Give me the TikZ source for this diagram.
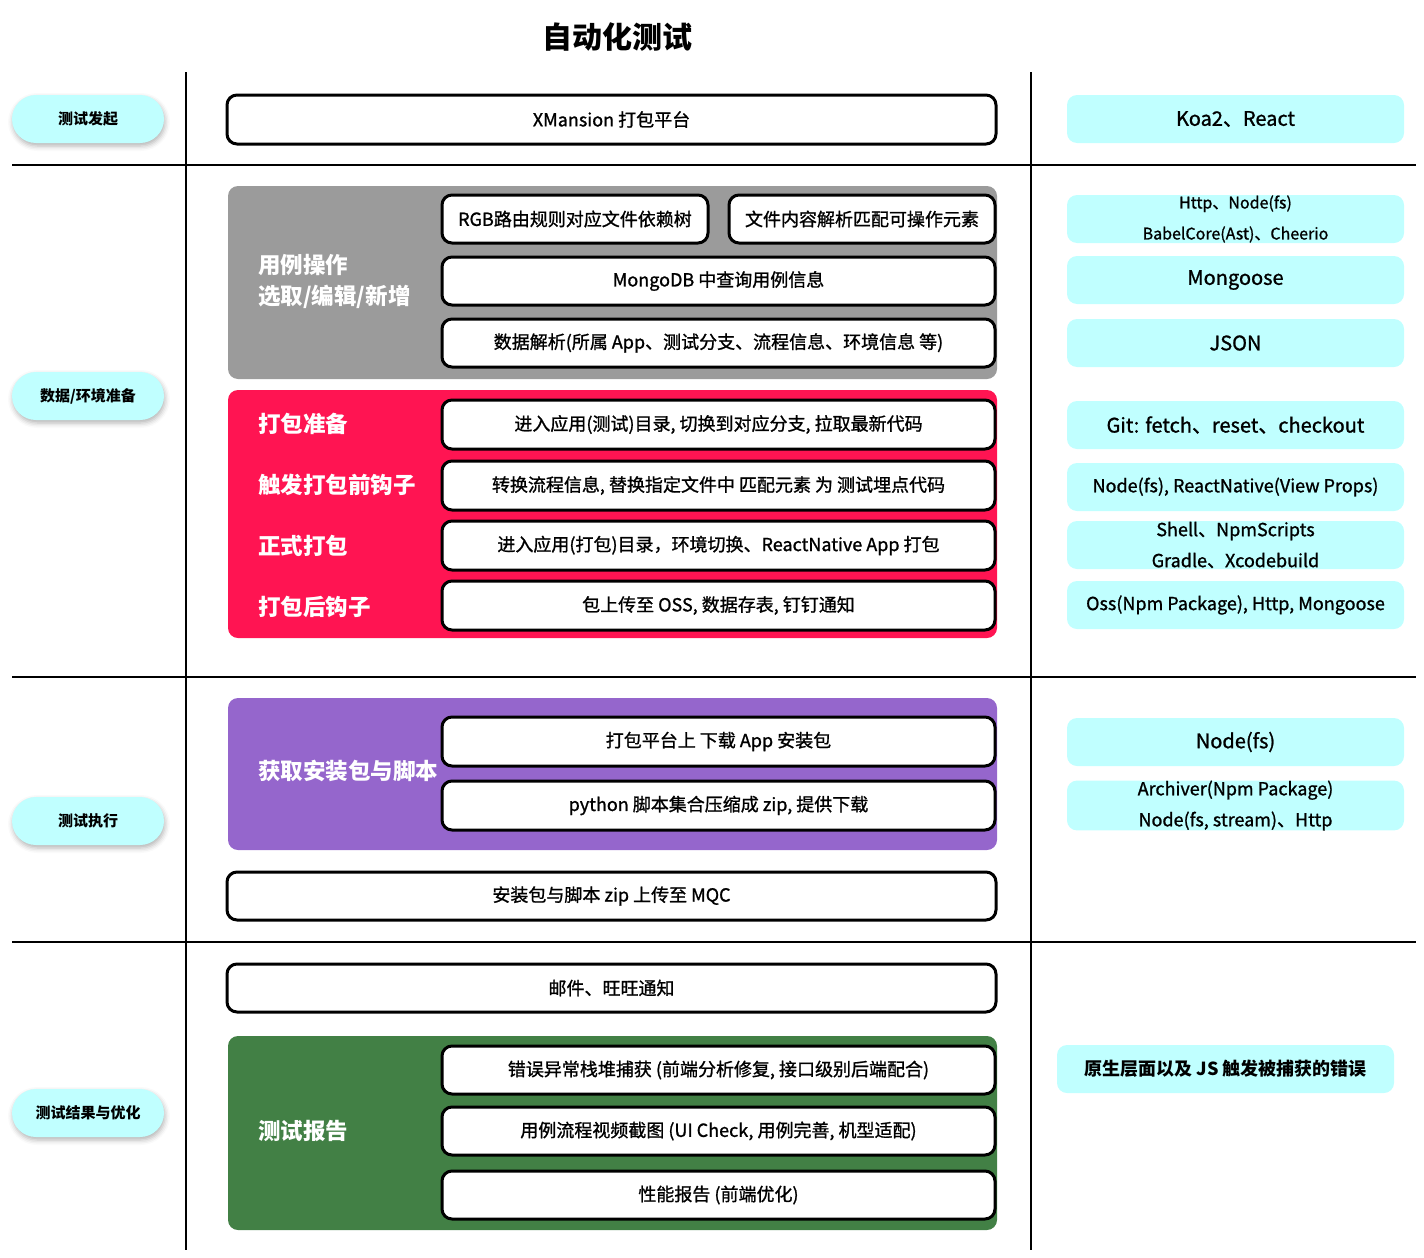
\documentclass[tikz,border=0pt]{standalone}
\usepackage{fontspec}
\setmainfont{Noto Sans CJK SC}[UprightFeatures={FakeBold=1.1}]
\usetikzlibrary{shadows.blur}
\definecolor{cyanbox}{RGB}{192,255,255}
\definecolor{grayg}{RGB}{155,155,155}
\definecolor{redg}{RGB}{255,20,82}
\definecolor{purpleg}{RGB}{149,102,204}
\definecolor{greeng}{RGB}{66,128,69}
\tikzset{
  wbox/.style={draw=black, line width=3pt, fill=white, rounded corners=10pt, minimum height=49pt, inner sep=0pt, font=\fontsize{18}{20}\selectfont, text=black},
  grp/.style={rounded corners=10pt, minimum width=769pt, inner sep=0pt},
  glabel/.style={anchor=west, text=white, font=\fontsize{22.5}{31}\selectfont\bfseries, align=left, inner sep=0pt},
  pill/.style={fill=cyanbox, rounded corners=24pt, minimum width=152pt, minimum height=48pt, inner sep=0pt, font=\fontsize{15}{17}\selectfont\bfseries, blur shadow={shadow xshift=1pt, shadow yshift=-3pt, shadow blur radius=5pt, shadow opacity=30}},
  rbox/.style={fill=cyanbox, rounded corners=10pt, minimum width=337pt, minimum height=48pt, inner sep=0pt, align=center},
  sep/.style={line width=2pt, black},
}
\begin{document}
\begin{tikzpicture}[x=1pt,y=-1pt]
\useasboundingbox (0,0) rectangle (1424,1258);
% title
\node[font=\fontsize{30}{32}\selectfont\bfseries] (title) at (617,37) {自动化测试};
% separators
\coordinate (v1t) at (186,72); \coordinate (v1b) at (186,1250);
\coordinate (v2t) at (1031,72); \coordinate (v2b) at (1031,1250);
\coordinate (h1l) at (12,165); \coordinate (h1r) at (1416,165);
\coordinate (h2l) at (12,677); \coordinate (h2r) at (1416,677);
\coordinate (h3l) at (12,942); \coordinate (h3r) at (1416,942);
\draw[sep] (v1t) -- (v1b);
\draw[sep] (v2t) -- (v2b);
\draw[sep] (h1l) -- (h1r);
\draw[sep] (h2l) -- (h2r);
\draw[sep] (h3l) -- (h3r);
% left pills
\node[pill] (p1) at (88,119) {测试发起};
\node[pill] (p2) at (88,396) {数据/环境准备};
\node[pill] (p3) at (88,821) {测试执行};
\node[pill] (p4) at (88,1113) {测试结果与优化};
% middle column
\node[wbox, minimum width=769pt] (xm) at (611.5,119.5) {XMansion 打包平台};
% gray group
\node[grp, fill=grayg, minimum height=193pt] (g1) at (612.5,282.5) {};
\node[glabel] (g1l) at (258,281) {用例操作\\选取/编辑/新增};
\node[wbox, minimum width=266pt, minimum height=48pt] (b11) at (575,219) {RGB路由规则对应文件依赖树};
\node[wbox, minimum width=266pt, minimum height=48pt] (b12) at (862,219) {文件内容解析匹配可操作元素};
\node[wbox, minimum width=553pt, minimum height=48pt] (b13) at (718.5,281) {MongoDB 中查询用例信息};
\node[wbox, minimum width=553pt, minimum height=48pt] (b14) at (718.5,343) {数据解析(所属 App、测试分支、流程信息、环境信息 等)};
% red group
\node[grp, fill=redg, minimum height=248pt] (g2) at (612.5,514) {};
\node[glabel] (g2a) at (258,424) {打包准备};
\node[glabel] (g2b) at (258,485) {触发打包前钩子};
\node[glabel] (g2c) at (258,546) {正式打包};
\node[glabel] (g2d) at (258,607) {打包后钩子};
\node[wbox, minimum width=553pt] (b21) at (718.5,424.5) {进入应用(测试)目录, 切换到对应分支, 拉取最新代码};
\node[wbox, minimum width=553pt] (b22) at (718.5,485.5) {转换流程信息, 替换指定文件中 匹配元素 为 测试埋点代码};
\node[wbox, minimum width=553pt] (b23) at (718.5,545.5) {进入应用(打包)目录，环境切换、ReactNative App 打包};
\node[wbox, minimum width=553pt] (b24) at (718.5,605.5) {包上传至 OSS, 数据存表, 钉钉通知};
% purple group
\node[grp, fill=purpleg, minimum height=152pt] (g3) at (612.5,774) {};
\node[glabel] (g3l) at (258,771) {获取安装包与脚本};
\node[wbox, minimum width=553pt] (b31) at (718.5,741.5) {打包平台上 下载 App 安装包};
\node[wbox, minimum width=553pt] (b32) at (718.5,805.5) {python 脚本集合压缩成 zip, 提供下载};
\node[wbox, minimum width=769pt, minimum height=48pt] (mqc) at (611.5,896) {安装包与脚本 zip 上传至 MQC};
\node[wbox, minimum width=769pt, minimum height=48pt] (mail) at (611.5,988) {邮件、旺旺通知};
% green group
\node[grp, fill=greeng, minimum height=194pt] (g4) at (612.5,1133) {};
\node[glabel] (g4l) at (258,1131) {测试报告};
\node[wbox, minimum width=553pt, minimum height=48pt] (b41) at (718.5,1070) {错误异常栈堆捕获 (前端分析修复, 接口级别后端配合)};
\node[wbox, minimum width=553pt, minimum height=48pt] (b42) at (718.5,1131) {用例流程视频截图 (UI Check, 用例完善, 机型适配)};
\node[wbox, minimum width=553pt, minimum height=48pt] (b43) at (718.5,1195) {性能报告 (前端优化)};
% right column
\node[rbox, font=\fontsize{20}{22}\selectfont] (r1) at (1235.5,119) {Koa2、React};
\node[rbox, font=\fontsize{16}{31}\selectfont] (r2) at (1235.5,219) {Http、Node(fs)\\BabelCore(Ast)、Cheerio};
\node[rbox, font=\fontsize{20}{22}\selectfont] (r3) at (1235.5,280) {Mongoose};
\node[rbox, font=\fontsize{20}{22}\selectfont] (r4) at (1235.5,343) {JSON};
\node[rbox, font=\fontsize{20}{22}\selectfont] (r5) at (1235.5,425) {Git: fetch、reset、checkout};
\node[rbox, font=\fontsize{18}{20}\selectfont] (r6) at (1235.5,487) {Node(fs), ReactNative(View Props)};
\node[rbox, font=\fontsize{18}{31}\selectfont] (r7) at (1235.5,545) {Shell、NpmScripts\\Gradle、Xcodebuild};
\node[rbox, font=\fontsize{18}{20}\selectfont] (r8) at (1235.5,605) {Oss(Npm Package), Http, Mongoose};
\node[rbox, font=\fontsize{20}{22}\selectfont] (r9) at (1235.5,742) {Node(fs)};
\node[rbox, font=\fontsize{18}{31}\selectfont] (r10) at (1235.5,805.5) {Archiver(Npm Package)\\Node(fs, stream)、Http};
\node[rbox, font=\fontsize{18}{20}\selectfont\bfseries] (r11) at (1225.5,1069) {原生层面以及 JS 触发被捕获的错误};
\end{tikzpicture}
\end{document}
